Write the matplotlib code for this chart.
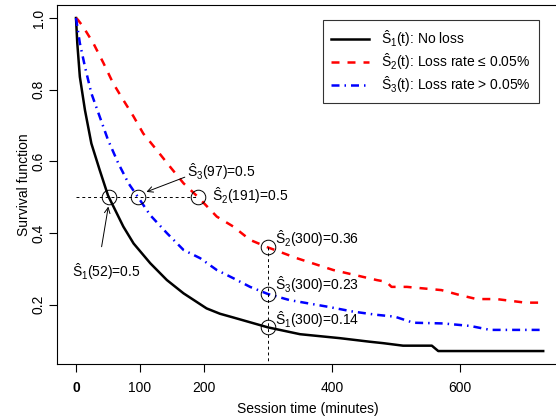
import matplotlib
matplotlib.use("Agg")
import matplotlib.pyplot as plt

plt.rcParams['font.family'] = ['Liberation Sans', 'DejaVu Sans']
plt.rcParams['mathtext.fontset'] = 'custom'
plt.rcParams['mathtext.rm'] = 'Liberation Sans'
plt.rcParams['mathtext.it'] = 'Liberation Sans'
plt.rcParams['mathtext.bf'] = 'Liberation Sans:bold'

# ---- data ----
t1 = [0, 2, 6, 14, 24, 37, 50, 74, 90, 116, 142, 168, 204, 225, 245, 300, 350, 412, 459, 480, 511, 556, 566, 730]
s1 = [1.0, 0.93, 0.836, 0.743, 0.65, 0.576, 0.505, 0.418, 0.371, 0.316, 0.269, 0.232, 0.19, 0.175, 0.165, 0.137,
      0.118, 0.107, 0.097, 0.093, 0.086, 0.086, 0.071, 0.071]

t2 = [0, 3, 11, 27, 43, 58, 74, 90, 105, 126, 147, 168, 191, 220, 246, 272, 300, 345, 402, 470, 485, 493, 517,
      571, 600, 626, 657, 702, 730]
s2 = [1.0, 0.995, 0.976, 0.93, 0.874, 0.818, 0.771, 0.725, 0.678, 0.632, 0.585, 0.539, 0.5, 0.446, 0.418, 0.381,
      0.36, 0.33, 0.297, 0.269, 0.264, 0.25, 0.25, 0.241, 0.227, 0.216, 0.216, 0.206, 0.206]

t3 = [0, 6, 14, 24, 37, 50, 66, 82, 97, 116, 142, 168, 194, 220, 246, 272, 300, 334, 392, 433, 470, 498, 527,
      574, 616, 647, 730]
s3 = [1.0, 0.93, 0.864, 0.79, 0.725, 0.66, 0.595, 0.539, 0.5, 0.45, 0.4, 0.353, 0.33, 0.297, 0.274, 0.25, 0.23,
      0.213, 0.195, 0.181, 0.172, 0.167, 0.15, 0.148, 0.141, 0.13, 0.13]

mark_t = [52, 97, 191, 300, 300, 300]
mark_s = [0.5, 0.5, 0.5, 0.36, 0.23, 0.137]

xticks = [0, 100, 200, 400, 600]
yticks = [0.2, 0.4, 0.6, 0.8, 1.0]

legend_labels = [r'$\hat{\mathrm{S}}_1$(t): No loss',
                 r'$\hat{\mathrm{S}}_2$(t): Loss rate ≤ 0.05%',
                 r'$\hat{\mathrm{S}}_3$(t): Loss rate > 0.05%']

W, H = 556, 419
fig = plt.figure(figsize=(W / 100, H / 100), dpi=100)
ax = fig.add_axes([57 / W, 1 - 364 / H, (558 - 57) / W, (364 - 5) / H])

# axis scale: x px = 76 + 0.64 t ; y px = 18 + (1-S)*358.5
ax.set_xlim((57 - 76) / 0.64, (558 - 76) / 0.64)
ax.set_ylim(1 - (364 - 18) / 358.5, 1 - (5 - 18) / 358.5)

l1, = ax.plot(t1, s1, color='black', lw=1.8, solid_joinstyle='round')
l2, = ax.plot(t2, s2, color='red', lw=1.8, dashes=(3.2, 3.2))
l3, = ax.plot(t3, s3, color='blue', lw=1.8, dashes=(3.2, 2.0, 0.6, 2.0))

# reference lines
ax.plot([0, 191], [0.5, 0.5], color='black', lw=0.7, dashes=(3, 3))
ax.plot([300, 300], [0.36, ax.get_ylim()[0]], color='black', lw=0.7, dashes=(3, 3))

ax.plot(mark_t, mark_s, linestyle='none', marker='o', markersize=10.5,
        markerfacecolor='none', markeredgecolor='black', markeredgewidth=0.7)

fs = 10
arrow = dict(arrowstyle='->', color='black', lw=0.7, shrinkA=0, shrinkB=0)
ax.annotate('', xy=(110, 0.515), xytext=(170, 0.556), arrowprops=arrow)
ax.annotate('', xy=(50.5, 0.474), xytext=(40, 0.362), arrowprops=arrow)
ax.text(173, 0.571, r'$\hat{\mathrm{S}}_3$(97)=0.5', fontsize=fs, va='center', ha='left')
ax.text(-7, 0.292, r'$\hat{\mathrm{S}}_1$(52)=0.5', fontsize=fs, va='center', ha='left')
ax.text(212, 0.504, r'$\hat{\mathrm{S}}_2$(191)=0.5', fontsize=fs, va='center', ha='left')
ax.text(311, 0.385, r'$\hat{\mathrm{S}}_2$(300)=0.36', fontsize=fs, va='center', ha='left')
ax.text(311, 0.256, r'$\hat{\mathrm{S}}_3$(300)=0.23', fontsize=fs, va='center', ha='left')
ax.text(311, 0.158, r'$\hat{\mathrm{S}}_1$(300)=0.14', fontsize=fs, va='center', ha='left')

# axes style (R-like)
for s in ['top', 'left', 'bottom', 'right']:
    ax.spines[s].set_linewidth(0.8)
ax.set_xticks(xticks)
ax.set_xticklabels([str(v) for v in xticks], fontsize=fs)
ax.get_xticklabels()[0].set_fontweight('bold')
ax.set_yticks(yticks)
ax.set_yticklabels([f'{v:.1f}' for v in yticks], fontsize=fs, rotation=90, va='center')
ax.tick_params(axis='both', direction='out', length=6, width=0.8)
ax.tick_params(axis='y', pad=2)
ax.tick_params(axis='x', pad=6)
ax.set_xlabel('Session time (minutes)', fontsize=fs, labelpad=5)
ax.set_ylabel('Survival function', fontsize=fs, labelpad=0.5)

leg = ax.legend([l1, l2, l3], legend_labels, loc='upper left',
                bbox_to_anchor=((323 - 57) / (558 - 57), 1 - (20 - 5) / 359.0),
                fontsize=fs, frameon=True, fancybox=False, edgecolor='black',
                handlelength=2.7, handletextpad=0.9, labelspacing=0.15, borderpad=0.6,
                borderaxespad=0)
leg.get_frame().set_linewidth(0.8)

fig.savefig('out.png', dpi=100)
